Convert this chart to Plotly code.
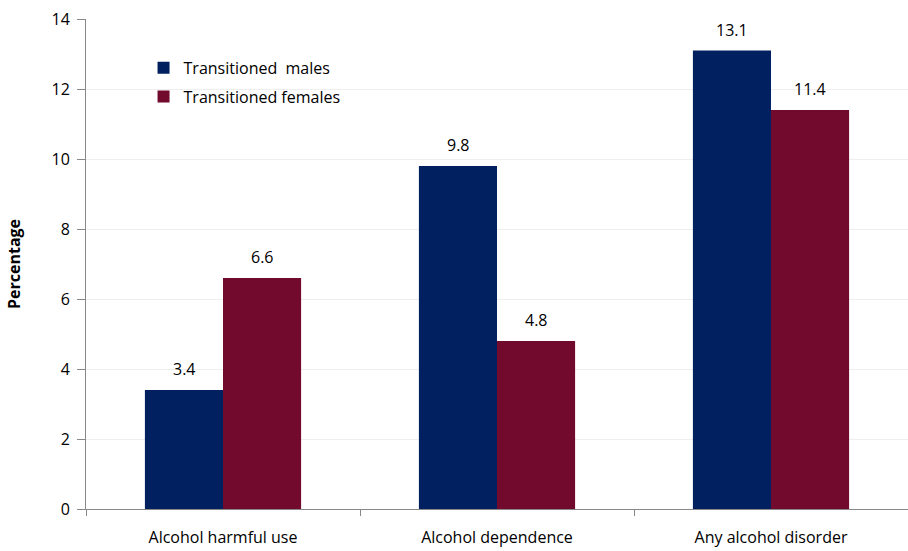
import plotly.graph_objects as go

categories = ["Alcohol harmful use", "Alcohol dependence", "Any alcohol disorder"]
males = [3.4, 9.8, 13.1]
females = [6.6, 4.8, 11.4]
y_ticks = [0, 2, 4, 6, 8, 10, 12, 14]

font_family = "'Open Sans', sans-serif"
male_color = "#002060"
female_color = "#710A2C"

fig = go.Figure()
fig.add_trace(go.Bar(
    x=categories, y=males, name="Transitioned  males",
    marker=dict(color=male_color, line=dict(width=0)),
    legendgroup="m",
))
fig.add_trace(go.Bar(
    x=categories, y=females, name="Transitioned females",
    marker=dict(color=female_color, line=dict(width=0)),
    legendgroup="f",
))

# value labels above each bar (half a bar width left/right of the category centre)
for cat, m, f in zip(categories, males, females):
    for val, shift in ((m, -39), (f, 39)):
        fig.add_annotation(
            x=cat, y=val, text=f"{val:.1f}", showarrow=False,
            xshift=shift, yshift=21, yanchor="middle",
            font=dict(size=16, color="#000000"),
        )

fig.update_layout(
    width=908, height=551,
    margin=dict(l=86, r=0, t=19, b=42),
    paper_bgcolor="white", plot_bgcolor="white",
    font=dict(family=font_family, size=16, color="#000000"),
    barmode="group", bargap=0.43, bargroupgap=0,
    showlegend=True,
    legend=dict(
        x=0.07, y=0.935, xanchor="left", yanchor="top",
        bgcolor="rgba(0,0,0,0)", font=dict(size=16),
        tracegroupgap=5,
    ),
    xaxis=dict(
        showline=True, linecolor="#888888", linewidth=1,
        ticks="outside", tickson="boundaries", ticklen=6, tickcolor="#888888",
        showgrid=False, tickfont=dict(size=16), ticklabelstandoff=14,
    ),
    yaxis=dict(
        range=[0, 14.0001], tickmode="array", tickvals=y_ticks,
        showline=True, linecolor="#888888",
        linewidth=1, ticks="outside", ticklen=8, tickcolor="#888888",
        showgrid=True, gridcolor="#eeeeee", gridwidth=1,
        tickfont=dict(size=16), zeroline=False, ticklabelstandoff=4,
        title=dict(text="<b>Percentage</b>", font=dict(size=16), standoff=26),
    ),
)

# drop the default page margin so the figure fills the window
fig.write_html(
    "out.html",
    config={"displayModeBar": False},
    post_script="document.body.style.margin='0';",
)
